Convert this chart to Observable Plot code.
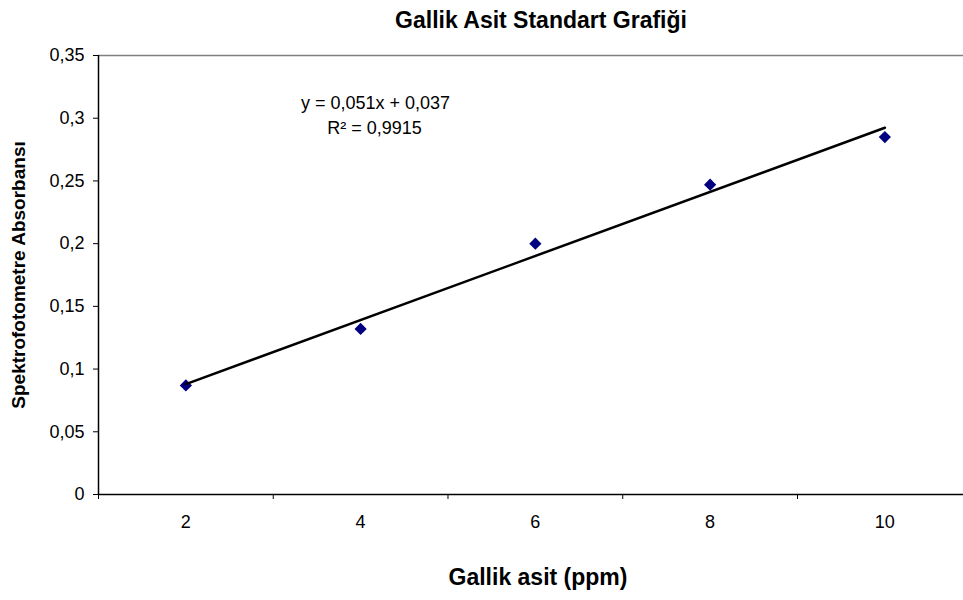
<!DOCTYPE html>
<html>
<head>
<meta charset="utf-8">
<script src="https://cdn.jsdelivr.net/npm/d3@7"></script>
<script src="https://cdn.jsdelivr.net/npm/@observablehq/plot@0.6"></script>
<style>
  html, body { margin: 0; padding: 0; background: #fff; }
  #chart svg { display: block; }
</style>
</head>
<body>
<div id="chart"></div>
<script>
// ---- data ----
const concentrations = [2, 4, 6, 8, 10];              // Gallik asit (ppm)
const absorbance = [0.087, 0.132, 0.200, 0.247, 0.285]; // Spektrofotometre absorbansı
const yTicks = [0, 0.05, 0.1, 0.15, 0.2, 0.25, 0.3, 0.35];
const xLabelTicks = [2, 4, 6, 8, 10];
const xBoundaryTicks = [1, 3, 5, 7, 9];
const titleText = "Gallik Asit Standart Grafiği";
const xLabelText = "Gallik asit (ppm)";
const yLabelText = "Spektrofotometre Absorbansı";
const equationText = "y = 0,051x + 0,037";
const r2Text = "R² = 0,9915";

const data = concentrations.map((c, i) => ({ x: c, y: absorbance[i] }));
const comma = d => String(d).replace(".", ",");

const chart = Plot.plot({
  width: 963,
  height: 600,
  marginLeft: 98,
  marginRight: 0,
  marginTop: 55,
  marginBottom: 106,
  style: { fontFamily: "'Liberation Sans', Arial, sans-serif", fontSize: "18px", color: "#000", background: "#fff" },
  x: { type: "linear", domain: [1, 10.9] },
  y: { domain: [0, 0.35] },
  marks: [
    Plot.ruleY([0.35], { stroke: "#808080", strokeWidth: 1.5 }),
    Plot.axisY({ ticks: yTicks, tickFormat: comma, tickSize: 5, tickPadding: 9, label: null, stroke: "#000", fontSize: 18 }),
    Plot.axisX({ ticks: xBoundaryTicks, tickFormat: () => "", tickSize: 5, label: null, stroke: "#000" }),
    Plot.axisX({ ticks: xLabelTicks, tickSize: 0, tickPadding: 21, label: null, fontSize: 18 }),
    Plot.ruleX([1], { stroke: "#000", strokeWidth: 1.5 }),
    Plot.ruleY([0], { stroke: "#000", strokeWidth: 1.5 }),
    Plot.dot(data, { x: "x", y: "y", symbol: "diamond2", r: 5.5, fill: "#000080", stroke: "none" }),
    Plot.linearRegressionY(data, { x: "x", y: "y", ci: 0, stroke: "#000", strokeWidth: 2.5 }),
    Plot.text([equationText], { frameAnchor: "top-left", dx: 277, dy: 48, textAnchor: "middle", lineAnchor: "middle", fontSize: 18 }),
    Plot.text([r2Text], { frameAnchor: "top-left", dx: 276, dy: 73, textAnchor: "middle", lineAnchor: "middle", fontSize: 18 }),
    Plot.text([titleText], { frameAnchor: "top", dx: 10, dy: -35, textAnchor: "middle", lineAnchor: "middle", fontWeight: "bold", fontSize: 23 }),
    Plot.text([xLabelText], { frameAnchor: "bottom", dx: 7, dy: 83, textAnchor: "middle", lineAnchor: "middle", fontWeight: "bold", fontSize: 23 }),
    Plot.text([yLabelText], { frameAnchor: "left", dx: -80, rotate: -90, textAnchor: "middle", lineAnchor: "middle", fontWeight: "bold", fontSize: 19 })
  ]
});
document.getElementById("chart").appendChild(chart);
</script>
</body>
</html>
